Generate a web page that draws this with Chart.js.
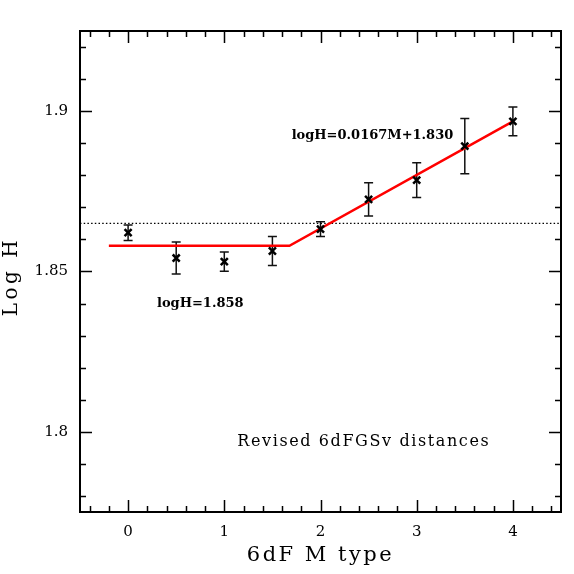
<!DOCTYPE html>
<html>
<head>
<meta charset="utf-8">
<title>Log H vs 6dF M type</title>
<script src="https://cdn.jsdelivr.net/npm/chart.js@4.4.1/dist/chart.umd.min.js"></script>
<style>
  html, body { margin: 0; padding: 0; background: #fff; }
  #wrap { width: 574px; height: 574px; position: relative; }
</style>
</head>
<body>
<div id="wrap"><canvas id="chart"></canvas></div>
<script>
// ============================================================
// Data
// ============================================================
const mTypes = [0, 0.5, 1, 1.5, 2, 2.5, 3, 3.5, 4];
const logH = [1.8621, 1.8542, 1.8531, 1.8564, 1.8632, 1.8725, 1.8785, 1.8891, 1.8968];
const logHErr = [0.0024, 0.0050, 0.0030, 0.0045, 0.0023, 0.0052, 0.0054, 0.0086, 0.0045];

// broken-line fit: flat part, then logH = 0.0167M + 1.830
const fitX = [-0.2, 1.677, 4.0];
const fitY = [1.858, 1.858, 1.8968];

// dotted reference level
const refX = [-0.5, 4.5];
const refY = [1.865, 1.865];

const xTickLabels = ['0', '1', '2', '3', '4'];
const yTickLabels = ['1.8', '1.85', '1.9'];

const notes = [
  { text: 'logH=1.858', x: 0.75, y: 1.840, font: 'bold 13px "DejaVu Serif"', spacing: 0 },
  { text: 'logH=0.0167M+1.830', x: 2.54, y: 1.8925, font: 'bold 13px "DejaVu Serif"', spacing: 0 },
  { text: 'Revised 6dFGSv distances', x: 2.45, y: 1.797, font: '16px "DejaVu Serif"', spacing: 1.6 }
];

// minor tick positions (axis furniture, not data)
const xMinor = [];
for (let i = -2; i <= 22; i++) xMinor.push(i / 5);
const yMinor = [];
for (let i = 178; i <= 192; i++) yMinor.push(i / 100);

const toXY = (xs, ys) => xs.map((x, i) => ({ x, y: ys[i] }));

// ============================================================
// Plugins
// ============================================================
const errorBars = {
  id: 'errorBars',
  beforeDatasetsDraw(chart) {
    const { ctx, scales: { x, y } } = chart;
    ctx.save();
    ctx.strokeStyle = '#111';
    ctx.lineWidth = 1.5;
    const cap = 4.5;
    mTypes.forEach((m, i) => {
      const px = x.getPixelForValue(m);
      const top = y.getPixelForValue(logH[i] + logHErr[i]);
      const bot = y.getPixelForValue(logH[i] - logHErr[i]);
      ctx.beginPath();
      ctx.moveTo(px, top); ctx.lineTo(px, bot);
      ctx.moveTo(px - cap, top); ctx.lineTo(px + cap, top);
      ctx.moveTo(px - cap, bot); ctx.lineTo(px + cap, bot);
      ctx.stroke();
    });
    ctx.restore();
  }
};

const frame = {
  id: 'frame',
  afterDraw(chart) {
    const { ctx, chartArea: a, scales: { x, y } } = chart;
    ctx.save();
    ctx.strokeStyle = '#000';
    ctx.lineWidth = 1.5;
    ctx.beginPath();
    x.ticks.forEach(t => {
      const px = Math.round(x.getPixelForValue(t.value)) + 0.5;
      const major = Math.abs(t.value - Math.round(t.value)) < 1e-6;
      const len = major ? 12 : 6;
      ctx.moveTo(px, a.bottom); ctx.lineTo(px, a.bottom - len);
      ctx.moveTo(px, a.top); ctx.lineTo(px, a.top + len);
    });
    y.ticks.forEach(t => {
      const py = Math.round(y.getPixelForValue(t.value)) + 0.5;
      const hund = Math.round(t.value * 100);
      const len = hund % 5 === 0 ? 12 : 6;
      ctx.moveTo(a.left, py); ctx.lineTo(a.left + len, py);
      ctx.moveTo(a.right, py); ctx.lineTo(a.right - len, py);
    });
    ctx.stroke();
    ctx.lineWidth = 2;
    ctx.strokeRect(a.left, a.top, a.right - a.left, a.bottom - a.top);

    // annotations and axis titles
    ctx.fillStyle = '#000';
    ctx.textAlign = 'center';
    ctx.textBaseline = 'middle';
    notes.forEach(n => {
      ctx.font = n.font;
      ctx.letterSpacing = n.spacing + 'px';
      ctx.fillText(n.text, x.getPixelForValue(n.x), y.getPixelForValue(n.y));
    });

    ctx.font = '21px "DejaVu Serif"';
    ctx.letterSpacing = '2.5px';
    ctx.fillText('6dF M type', (a.left + a.right) / 2, 556);

    ctx.translate(12, (a.top + a.bottom) / 2 + 5);
    ctx.rotate(-Math.PI / 2);
    ctx.font = '20px "DejaVu Serif"';
    ctx.letterSpacing = '3.5px';
    ctx.fillText('Log H', 0, 0);
    ctx.restore();
  }
};

// ============================================================
// Chart
// ============================================================
const tickFont = { family: '"DejaVu Serif"', size: 15 };

new Chart(document.getElementById('chart'), {
  type: 'scatter',
  data: {
    datasets: [
      {
        label: 'log H',
        data: toXY(mTypes, logH),
        pointStyle: 'crossRot',
        pointRadius: 5,
        borderColor: '#000',
        borderWidth: 2.5
      },
      {
        label: 'fit',
        data: toXY(fitX, fitY),
        showLine: true,
        pointRadius: 0,
        borderColor: '#ff0000',
        borderWidth: 2.5
      },
      {
        label: 'reference',
        data: toXY(refX, refY),
        showLine: true,
        pointRadius: 0,
        borderColor: '#000',
        borderWidth: 1.3,
        borderDash: [1.5, 2.2]
      }
    ]
  },
  options: {
    responsive: true,
    maintainAspectRatio: false,
    animation: false,
    events: [],
    layout: { padding: { top: 31, right: 13, left: 0, bottom: 0 } },
    plugins: {
      legend: { display: false },
      tooltip: { enabled: false }
    },
    scales: {
      x: {
        type: 'linear',
        min: -0.5,
        max: 4.5,
        grid: { display: false, drawTicks: false },
        border: { display: false },
        afterBuildTicks: (scale) => { scale.ticks = xMinor.map(v => ({ value: v })); },
        afterFit: (scale) => { scale.height = 62; },
        ticks: {
          autoSkip: false,
          maxRotation: 0,
          padding: 11,
          color: '#000',
          font: tickFont,
          callback: (v) => {
            const s = String(Math.round(v * 10) / 10);
            return xTickLabels.includes(s) ? s : '';
          }
        }
      },
      y: {
        type: 'linear',
        min: 1.775,
        max: 1.925,
        grid: { display: false, drawTicks: false },
        border: { display: false },
        afterBuildTicks: (scale) => { scale.ticks = yMinor.map(v => ({ value: v })); },
        afterFit: (scale) => { scale.width = 80; },
        ticks: {
          autoSkip: false,
          padding: 12,
          color: '#000',
          font: tickFont,
          callback: (v) => {
            const s = String(Math.round(v * 1000) / 1000);
            return yTickLabels.includes(s) ? s : '';
          }
        }
      }
    }
  },
  plugins: [errorBars, frame]
});
</script>
</body>
</html>
